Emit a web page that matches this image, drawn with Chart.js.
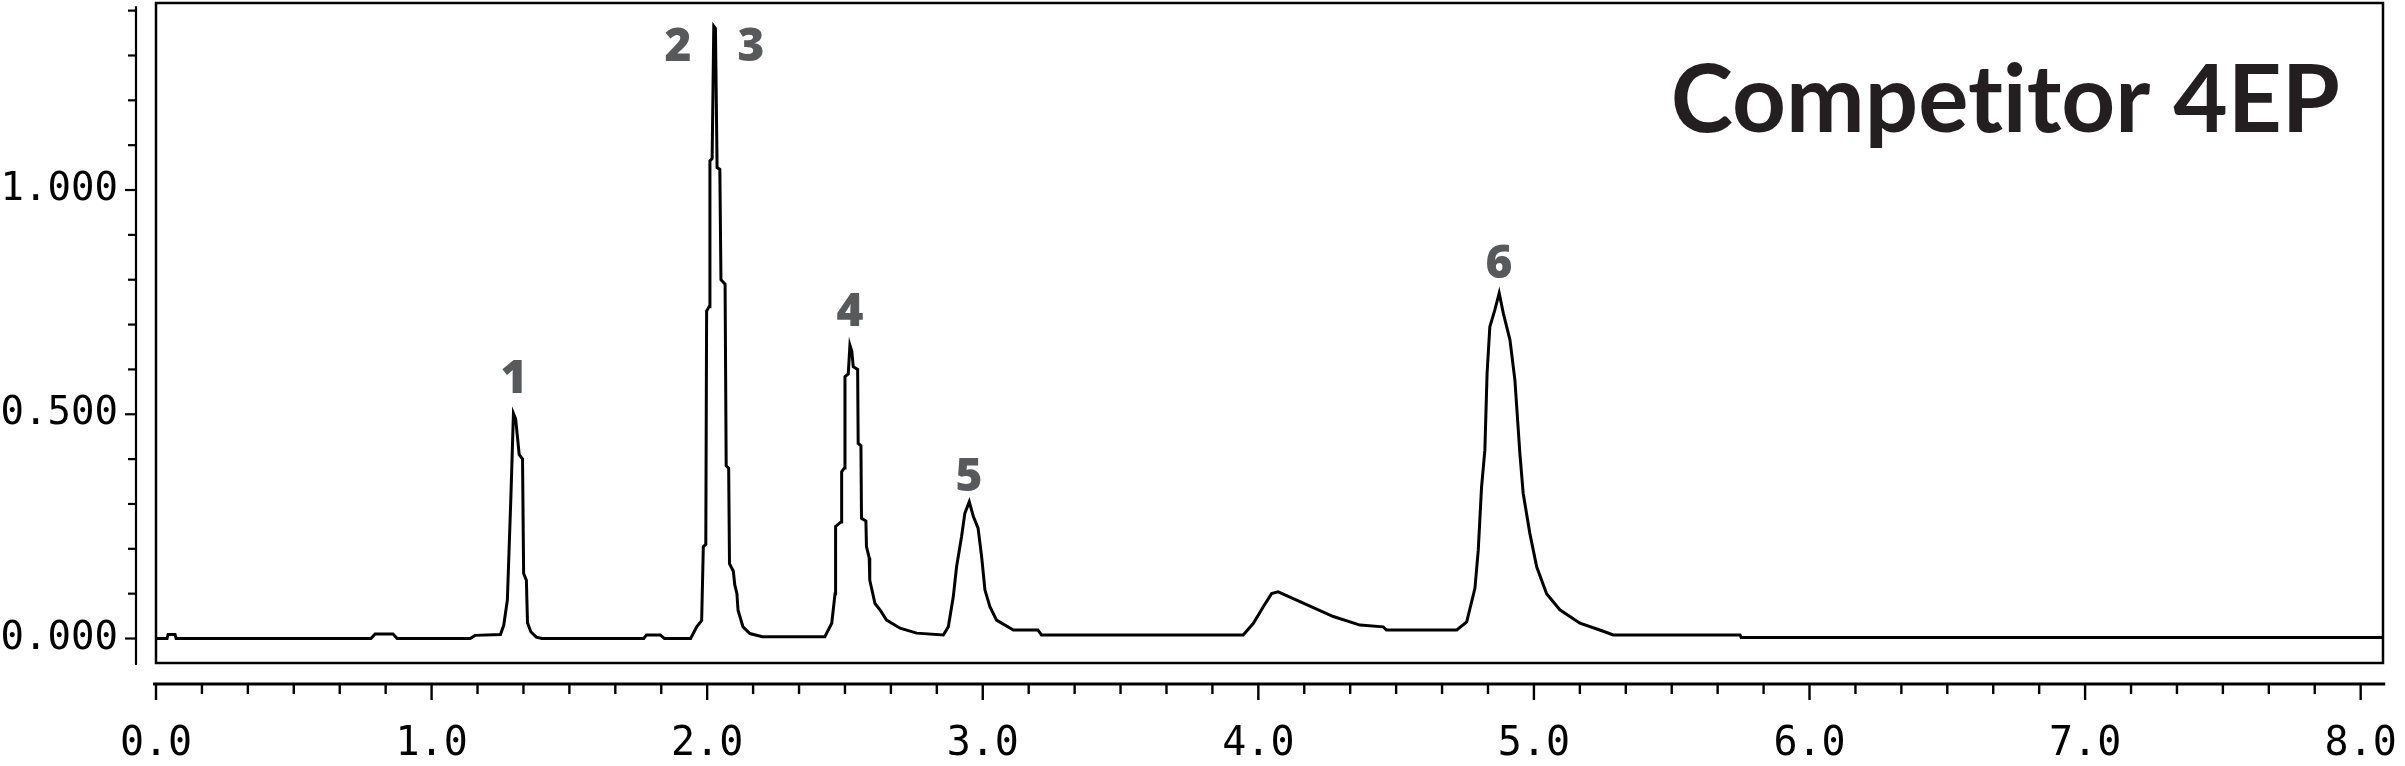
<!DOCTYPE html>
<html>
<head>
<meta charset="utf-8">
<script src="https://cdn.jsdelivr.net/npm/chart.js@4.4.1/dist/chart.umd.min.js"></script>
<style>
  html, body { margin: 0; padding: 0; background: #fff; }
  #wrap { width: 2405px; height: 766px; }
</style>
</head>
<body>
<div id="wrap"><canvas id="chromatogram" width="2405" height="766"></canvas></div>
<script>
// retention time (min) and absorbance
var times = [
  0.000, 0.040, 0.044, 0.069, 0.073, 0.780, 0.795, 0.860, 0.875, 1.140,
  1.158, 1.250, 1.262, 1.275, 1.288, 1.297, 1.305, 1.318, 1.330, 1.334,
  1.344, 1.348, 1.360, 1.380, 1.400, 1.770, 1.780, 1.830, 1.845, 1.940,
  1.962, 1.980, 1.986, 1.995, 1.998, 2.007, 2.010, 2.018, 2.024, 2.030,
  2.036, 2.046, 2.050, 2.065, 2.069, 2.078, 2.081, 2.095, 2.100, 2.108,
  2.112, 2.130, 2.155, 2.200, 2.427, 2.452, 2.464, 2.466, 2.486, 2.488,
  2.498, 2.500, 2.512, 2.518, 2.525, 2.530, 2.546, 2.548, 2.558, 2.560,
  2.576, 2.578, 2.588, 2.590, 2.609, 2.627, 2.651, 2.700, 2.760, 2.857,
  2.875, 2.893, 2.905, 2.923, 2.935, 2.951, 2.966, 2.983, 2.996, 3.008,
  3.026, 3.050, 3.111, 3.200, 3.213, 3.945, 3.982, 4.018, 4.048, 4.072,
  4.151, 4.272, 4.369, 4.453, 4.465, 4.720, 4.756, 4.786, 4.798, 4.810,
  4.822, 4.830, 4.840, 4.858, 4.874, 4.889, 4.913, 4.931, 4.949, 4.961,
  4.985, 5.010, 5.046, 5.094, 5.167, 5.239, 5.288, 5.748, 5.752, 8.100
];
var absorbance = [
  0.000, 0.000, 0.009, 0.009, 0.000, 0.000, 0.010, 0.010, 0.000, 0.000,
  0.007, 0.009, 0.030, 0.086, 0.320, 0.502, 0.490, 0.410, 0.400, 0.145,
  0.130, 0.035, 0.015, 0.003, 0.000, 0.000, 0.008, 0.008, 0.000, 0.000,
  0.026, 0.040, 0.205, 0.210, 0.730, 0.740, 1.065, 1.070, 1.365, 1.360,
  1.050, 1.046, 0.800, 0.790, 0.385, 0.380, 0.167, 0.150, 0.120, 0.100,
  0.063, 0.026, 0.011, 0.004, 0.004, 0.034, 0.100, 0.250, 0.260, 0.372,
  0.380, 0.584, 0.590, 0.654, 0.640, 0.606, 0.600, 0.435, 0.430, 0.268,
  0.262, 0.205, 0.180, 0.130, 0.078, 0.064, 0.041, 0.023, 0.012, 0.008,
  0.026, 0.093, 0.160, 0.227, 0.279, 0.305, 0.272, 0.246, 0.182, 0.108,
  0.071, 0.041, 0.019, 0.019, 0.008, 0.008, 0.034, 0.071, 0.100, 0.104,
  0.082, 0.049, 0.030, 0.026, 0.019, 0.019, 0.037, 0.112, 0.197, 0.338,
  0.420, 0.591, 0.695, 0.732, 0.770, 0.725, 0.666, 0.576, 0.413, 0.324,
  0.235, 0.160, 0.100, 0.064, 0.034, 0.019, 0.008, 0.008, 0.002, 0.002
];

var xTickValues = [0, 1, 2, 3, 4, 5, 6, 7, 8];
var yTickValues = [0, 0.5, 1.0];

// peak numbers and where they sit (time, absorbance of the label baseline)
var peakNames = ['1', '2', '3', '4', '5', '6'];
var peakNameTimes = [1.299, 1.894, 2.159, 2.518, 2.950, 4.873];
var peakNameLevels = [0.547, 1.288, 1.288, 0.697, 0.329, 0.804];

var titleText = 'Competitor 4EP';

var monoFamily = '"DejaVu Sans Mono", monospace';

// frame, detached axes with minor ticks, peak numbers and the title
var chromAxes = {
  id: 'chromAxes',
  afterDraw: function (chart) {
    var c = chart.ctx, a = chart.chartArea;
    var xs = chart.scales.x, ys = chart.scales.y;
    var k, p;
    c.save();
    c.strokeStyle = '#000';
    c.lineCap = 'butt';

    c.lineWidth = 2.5;
    c.strokeRect(a.left, a.top, a.right - a.left, a.bottom - a.top);

    // y axis, sits left of the frame
    var ax = a.left - 20;
    c.lineWidth = 2.2;
    c.beginPath();
    c.moveTo(ax, ys.getPixelForValue(1.41));
    c.lineTo(ax, ys.getPixelForValue(-0.059));
    c.stroke();
    for (k = 0; k <= 14; k++) {
      p = ys.getPixelForValue(k / 10);
      c.beginPath();
      c.moveTo(ax - (k % 5 === 0 ? 11 : 8), p);
      c.lineTo(ax, p);
      c.stroke();
    }

    // x axis, sits below the frame; minor ticks every 10 s
    var ay = a.bottom + 21;
    c.lineWidth = 2.8;
    c.beginPath();
    c.moveTo(xs.getPixelForValue(-0.011), ay);
    c.lineTo(xs.getPixelForValue(8.089), ay);
    c.stroke();
    c.lineWidth = 2.4;
    for (k = 0; k <= 48; k++) {
      p = xs.getPixelForValue(k / 6);
      c.beginPath();
      c.moveTo(p, ay);
      c.lineTo(p, ay + (k % 6 === 0 ? 16 : 10));
      c.stroke();
    }

    c.fillStyle = '#58595b';
    c.font = '800 46px "Open Sans", sans-serif';
    c.textAlign = 'center';
    c.textBaseline = 'alphabetic';
    for (k = 0; k < peakNames.length; k++) {
      c.fillText(peakNames[k], xs.getPixelForValue(peakNameTimes[k]), ys.getPixelForValue(peakNameLevels[k]));
    }

    c.fillStyle = '#231f20';
    c.font = 'bold 94px Lato, "Open Sans", sans-serif';
    c.textAlign = 'right';
    c.textRendering = 'optimizeSpeed';
    c.fillText(titleText, a.right - 43, a.top + 129);
    c.restore();
  }
};

// fixed scale boxes so the plot frame lands where the original one is
function fitBox(size) {
  return function (s) {
    if (s.isHorizontal()) { s.height = size; } else { s.width = size; }
    s.paddingTop = 0;
    s.paddingBottom = 0;
    s.paddingLeft = 0;
    s.paddingRight = 0;
  };
}

var points = times.map(function (t, i) { return { x: t, y: absorbance[i] }; });

var chart = new Chart(document.getElementById('chromatogram'), {
  type: 'line',
  data: {
    datasets: [{
      data: points,
      borderColor: '#000',
      borderWidth: 3,
      pointRadius: 0,
      tension: 0,
      fill: false
    }]
  },
  options: {
    responsive: false,
    animation: false,
    devicePixelRatio: 1,
    layout: { padding: { top: 3, right: 22, left: 0, bottom: 0 } },
    plugins: { legend: { display: false }, tooltip: { enabled: false } },
    scales: {
      x: {
        type: 'linear',
        min: 0,
        max: 8.081,
        afterFit: fitBox(103),
        afterBuildTicks: function (s) { s.ticks = xTickValues.map(function (v) { return { value: v }; }); },
        grid: { display: false },
        border: { display: false },
        ticks: {
          padding: 50,
          font: { family: monoFamily, size: 40 },
          color: '#000',
          maxRotation: 0,
          autoSkip: false,
          callback: function (v) { return Number(v).toFixed(1); }
        }
      },
      y: {
        type: 'linear',
        min: -0.0546,
        max: 1.417,
        afterFit: fitBox(156),
        afterBuildTicks: function (s) { s.ticks = yTickValues.map(function (v) { return { value: v }; }); },
        grid: { display: false },
        border: { display: false },
        ticks: {
          padding: 30,
          font: { family: monoFamily, size: 39 },
          color: '#000',
          callback: function (v) { return Number(v).toFixed(3); }
        }
      }
    }
  },
  plugins: [chromAxes]
});
</script>
</body>
</html>
